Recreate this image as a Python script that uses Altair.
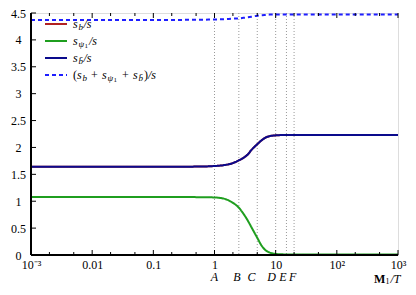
import altair as alt
import pandas as pd

W, H = 367, 242
FONT = "Liberation Serif"

# ---- data ----
x_pts = [0.001, 0.01, 0.1, 0.3, 0.6, 1.0, 1.4, 2.0, 2.5, 3.0, 3.5, 4.0, 5.0, 6.0, 7.0, 8.0, 10, 13, 20, 50, 1000]
s_b = [1.64, 1.64, 1.64, 1.642, 1.645, 1.655, 1.67, 1.71, 1.76, 1.81, 1.87, 1.95, 2.06, 2.14, 2.19, 2.21, 2.225, 2.23, 2.23, 2.23, 2.23]
s_psi = [1.08, 1.08, 1.08, 1.078, 1.075, 1.07, 1.05, 0.97, 0.88, 0.76, 0.64, 0.52, 0.32, 0.16, 0.08, 0.045, 0.02, 0.012, 0.01, 0.01, 0.01]
s_bbar = [1.64, 1.64, 1.64, 1.642, 1.645, 1.655, 1.67, 1.71, 1.76, 1.81, 1.87, 1.95, 2.06, 2.14, 2.19, 2.21, 2.225, 2.23, 2.23, 2.23, 2.23]
s_total = [4.37, 4.37, 4.37, 4.372, 4.375, 4.38, 4.385, 4.395, 4.40, 4.41, 4.42, 4.43, 4.45, 4.46, 4.465, 4.47, 4.47, 4.47, 4.47, 4.47, 4.47]

series = ["sb", "spsi", "sbbar", "total"]
colors = ["#b22222", "#1f9e1f", "#0a0a8c", "#1e1eff"]

marker_x = [1, 2.5, 5, 10, 15, 20]
marker_labels = ["A", "B", "C", "D", "E", "F"]
marker_label_x = [1, 2.32, 4.04, 8.6, 13.2, 18.9]

x_major = [0.001, 0.01, 0.1, 1, 10, 100, 1000]
x_minor = [0.002, 0.005, 0.02, 0.05, 0.2, 0.5, 2, 5, 20, 50, 200, 500]
y_ticks = [0, 0.5, 1, 1.5, 2, 2.5, 3, 3.5, 4, 4.5]

# ---- tables ----
rows = []
for name, vals, order in zip(series, [s_b, s_psi, s_bbar, s_total], [0, 1, 2, 3]):
    for xv, yv in zip(x_pts, vals):
        rows.append({"x": xv, "y": yv, "series": name, "order": order})
df = pd.DataFrame(rows)

xscale = alt.Scale(type="log", domain=[0.001, 1000], nice=False)
yscale = alt.Scale(domain=[0, 4.5], nice=False)

xaxis = alt.Axis(
    values=x_major, tickSize=0, domain=False, grid=False, title=None,
    labelFont=FONT, labelFontSize=12, labelColor="black", labelPadding=4,
    labelExpr="datum.value == 0.001 ? '10⁻³' : datum.value == 100 ? '10²' : datum.value == 1000 ? '10³' : datum.value == 0.01 ? '0.01' : datum.value == 0.1 ? '0.1' : datum.value == 1 ? '1' : '10'",
    labelFlush=False, labelOverlap=False,
)
yaxis = alt.Axis(
    values=y_ticks, tickSize=0, domain=False, grid=False, title=None,
    labelFont=FONT, labelFontSize=12, labelColor="black", labelPadding=13,
    labelAlign="center", format=".1~f", labelFlush=False, labelOverlap=False,
)


def X(field="x"):
    return alt.X(f"{field}:Q", scale=xscale, axis=xaxis)


def Y(field="y"):
    return alt.Y(f"{field}:Q", scale=yscale, axis=yaxis)


# guide lines
vl = alt.Chart(pd.DataFrame({"x": marker_x})).mark_rule(
    color="#999999", strokeDash=[1, 2], strokeWidth=1
).encode(x=X(), y=alt.value(0), y2=alt.value(H))

hl = alt.Chart(pd.DataFrame({"y": [0]})).mark_rule(
    color="#999999", strokeDash=[1, 2], strokeWidth=1
).encode(y=Y(), x=alt.value(0), x2=alt.value(W))

# ticks (inward)
maj_b = alt.Chart(pd.DataFrame({"x": x_major})).mark_rule(color="black", strokeWidth=1).encode(
    x=X(), y=alt.value(H), y2=alt.value(H - 5))
maj_t = alt.Chart(pd.DataFrame({"x": x_major})).mark_rule(color="black", strokeWidth=1).encode(
    x=X(), y=alt.value(0), y2=alt.value(5))
min_b = alt.Chart(pd.DataFrame({"x": x_minor})).mark_rule(color="black", strokeWidth=1).encode(
    x=X(), y=alt.value(H), y2=alt.value(H - 3))
min_t = alt.Chart(pd.DataFrame({"x": x_minor})).mark_rule(color="black", strokeWidth=1).encode(
    x=X(), y=alt.value(0), y2=alt.value(3))
yt = alt.Chart(pd.DataFrame({"y": y_ticks})).mark_rule(color="black", strokeWidth=1).encode(
    y=Y(), x=alt.value(0), x2=alt.value(5))

# frame thick left / bottom
left_edge = alt.Chart(pd.DataFrame({"a": [0]})).mark_rule(color="black", strokeWidth=2).encode(
    x=alt.value(0), y=alt.value(0), y2=alt.value(H))
bottom_edge = alt.Chart(pd.DataFrame({"a": [0]})).mark_rule(color="black", strokeWidth=2).encode(
    x=alt.value(0), x2=alt.value(W), y=alt.value(H))

lines = alt.Chart(df).mark_line(strokeWidth=2, interpolate="monotone", clip=True).encode(
    x=X(),
    y=Y(),
    color=alt.Color("series:N", scale=alt.Scale(domain=series, range=colors), legend=None),
    strokeDash=alt.condition(alt.datum.series == "total", alt.value([4, 3]), alt.value([1, 0])),
    detail="series:N",
    order="order:Q",
)

mlab = alt.Chart(pd.DataFrame({"x": marker_label_x, "t": marker_labels})).mark_text(
    font=FONT, fontSize=12, fontStyle="italic", color="black", baseline="middle", align="center"
).encode(x=X(), y=alt.value(H + 22), text="t:N")

one = pd.DataFrame({"a": [0]})


def piece(t, px, py, size=12, style="italic", weight="normal", color="black"):
    return alt.Chart(one).mark_text(
        text=t, font=FONT, fontSize=size, fontStyle=style, fontWeight=weight,
        color=color, align="left", baseline="middle",
    ).encode(x=alt.value(px), y=alt.value(py))


def seg(color, py, dash=None):
    kw = {"color": color, "strokeWidth": 2}
    if dash:
        kw["strokeDash"] = dash
    return alt.Chart(one).mark_rule(**kw).encode(x=alt.value(14), x2=alt.value(36), y=alt.value(py))


leg_y = [11, 28, 45, 62]
legend_layers = [
    seg(colors[0], leg_y[0]), seg(colors[1], leg_y[1]), seg(colors[2], leg_y[2]), seg(colors[3], leg_y[3], [4, 3]),
    # row 1
    piece("s", 42, leg_y[0]), piece("b", 47.5, leg_y[0] + 3, 9), piece("/s", 52.5, leg_y[0]),
    # row 2
    piece("s", 42, leg_y[1]), piece("ψ", 47.5, leg_y[1] + 3, 9), piece("1", 53.5, leg_y[1] + 5, 7, "normal"),
    piece("/s", 58, leg_y[1]),
    # row 3
    piece("s", 42, leg_y[2]), piece("b̄", 47.5, leg_y[2] + 3, 9), piece("/s", 52.5, leg_y[2]),
    # row 4
    piece("(", 42, leg_y[3], 12, "normal"), piece("s", 46, leg_y[3]), piece("b", 51.5, leg_y[3] + 3, 9),
    piece("+", 60, leg_y[3], 12, "normal"),
    piece("s", 71, leg_y[3]), piece("ψ", 76.5, leg_y[3] + 3, 9), piece("1", 82.5, leg_y[3] + 5, 7, "normal"),
    piece("+", 91, leg_y[3], 12, "normal"),
    piece("s", 102, leg_y[3]), piece("b̄", 107.5, leg_y[3] + 3, 9), piece(")", 113, leg_y[3], 12, "normal"),
    piece("/s", 117, leg_y[3]),
]

title_layers = [
    piece("M", 343, H + 24, 12, "normal", "bold"),
    piece("1", 354.5, H + 27, 8, "normal"),
    piece("/T", 359.5, H + 24, 12),
]

chart = alt.layer(
    vl, hl, lines, maj_b, maj_t, min_b, min_t, yt, left_edge, bottom_edge, mlab,
    *legend_layers, *title_layers,
).properties(
    width=W, height=H,
    autosize=alt.AutoSizeParams(type="none"),
    padding={"left": 23, "top": 5, "right": 10, "bottom": 32},
).configure_view(stroke="black", strokeWidth=1.5).configure(background="white")

chart.save("out.html", embed_options={"renderer": "svg", "actions": False})
